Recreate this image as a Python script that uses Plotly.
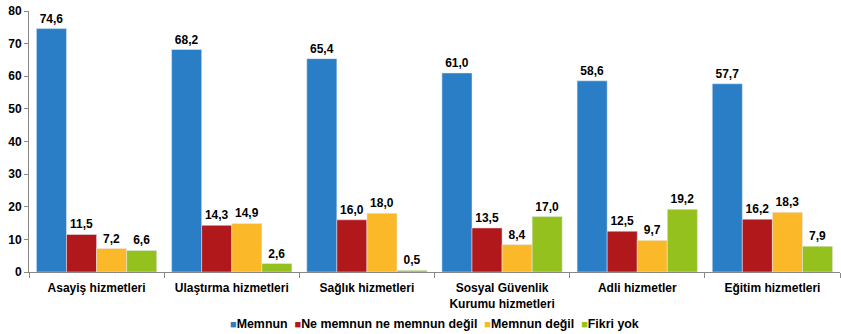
import plotly.graph_objects as go

categories = ["Asayiş hizmetleri", "Ulaştırma hizmetleri", "Sağlık hizmetleri",
              "Sosyal Güvenlik<br>Kurumu hizmetleri", "Adli hizmetler", "Eğitim hizmetleri"]
series_names = ["Memnun", "Ne memnun ne memnun değil", "Memnun değil", "Fikri yok"]
memnun = [74.6, 68.2, 65.4, 61.0, 58.6, 57.7]
ne_memnun = [11.5, 14.3, 16.0, 13.5, 12.5, 16.2]
memnun_degil = [7.2, 14.9, 18.0, 8.4, 9.7, 18.3]
fikri_yok = [6.6, 2.6, 0.5, 17.0, 19.2, 7.9]
colors = ["#2A7EC6", "#B0181B", "#FBB829", "#95C11F"]
y_ticks = [0, 10, 20, 30, 40, 50, 60, 70, 80]

fig = go.Figure()
for name, vals, col in zip(series_names, [memnun, ne_memnun, memnun_degil, fikri_yok], colors):
    fig.add_trace(go.Bar(
        x=categories, y=vals, name=name, marker_color=col,
        texttemplate="%{y:.1f}", textposition="outside", cliponaxis=False,
        textfont=dict(family="Liberation Sans, Arial", size=12, color="black", weight="bold"),
    ))

legend_text = "&nbsp;&nbsp;".join(
    f"<span style='color:{c}; font-size:11px'>■</span>{n}" for n, c in zip(series_names, colors)
)
fig.add_annotation(
    text=legend_text, xref="paper", yref="paper", x=0.5, y=-0.2, xanchor="center",
    yanchor="middle", showarrow=False,
    font=dict(family="Liberation Sans, Arial", size=12.4, color="black", weight="bold"),
)

fig.update_layout(
    width=841, height=334,
    margin=dict(l=29, r=1, t=11, b=62, autoexpand=False),
    paper_bgcolor="white", plot_bgcolor="white",
    barmode="group", bargap=0.11, bargroupgap=0,
    separators=", ",
    font=dict(family="Liberation Sans, Arial", size=12, color="black"),
    showlegend=False,
)
fig.update_xaxes(showline=True, linecolor="#888888", linewidth=1,
                 ticks="outside", tickson="boundaries", ticklen=5, tickcolor="#888888",
                 ticklabelstandoff=5,
                 tickfont=dict(size=12, weight="bold"), showgrid=False)
fig.update_yaxes(range=[0, 80], tickvals=y_ticks, showline=True, linecolor="#888888",
                 linewidth=1, ticks="outside", ticklen=4, tickcolor="#888888",
                 showgrid=False, zeroline=False,
                 tickfont=dict(size=12, weight="bold"))

fig.write_html("out.html")
